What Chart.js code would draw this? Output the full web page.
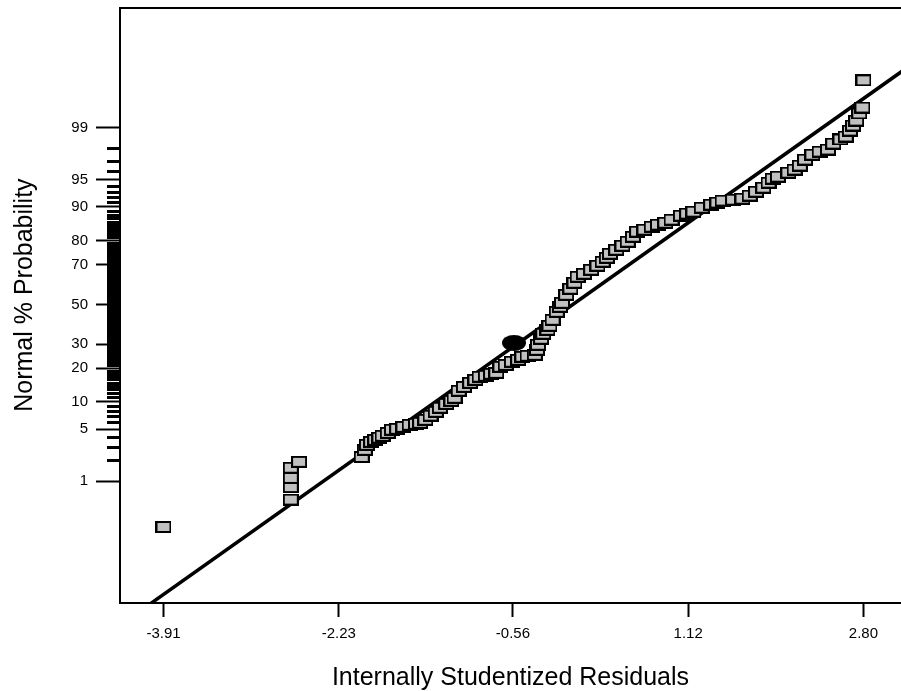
<!DOCTYPE html>
<html>
<head>
<meta charset="utf-8">
<title>Normal Plot of Residuals</title>
<script src="https://cdn.jsdelivr.net/npm/chart.js@4/dist/chart.umd.min.js"></script>
<style>
  html, body { margin: 0; padding: 0; background: #fff; }
  #chart { display: block; }
</style>
</head>
<body>
<canvas id="chart" width="901" height="691"></canvas>
<script>
// ===================================
//   NORMAL PLOT OF RESIDUALS
//   residuals vs normal % probability
// ===================================

// Data
const residuals = [
  -3.91, -2.69, -2.69, -2.69, -2.69, -2.61,
  -2.01, -1.98, -1.96, -1.92, -1.88, -1.84, -1.81, -1.76, -1.72, -1.67,
  -1.61, -1.55, -1.49, -1.45, -1.40, -1.35, -1.30, -1.26, -1.20, -1.15,
  -1.12, -1.08, -1.03, -0.97,
  -0.92, -0.88, -0.82, -0.77, -0.72, -0.68, -0.63, -0.57, -0.51, -0.47,
  -0.42, -0.35, -0.33, -0.32, -0.29, -0.27, -0.23, -0.21, -0.18, -0.14,
  -0.11, -0.09, -0.05, -0.01, 0.03, 0.06, 0.12, 0.19, 0.25, 0.30,
  0.34, 0.37, 0.43, 0.49, 0.54, 0.59, 0.63, 0.70, 0.77, 0.83,
  0.90, 0.96, 1.05, 1.11, 1.17, 1.25, 1.34, 1.40, 1.45,
  1.55, 1.64, 1.71, 1.77, 1.84, 1.89, 1.93, 1.98, 2.08, 2.14,
  2.19, 2.24, 2.31, 2.38, 2.46, 2.51, 2.58, 2.63, 2.67, 2.70,
  2.73, 2.76, 2.79, 2.80
];
const probPct = [
  0.17, 0.51, 0.81, 1.12, 1.58, 1.91,
  2.23, 2.78, 3.23, 3.52, 3.73, 3.96, 4.19, 4.54, 4.95, 5.08,
  5.35, 5.65, 5.80, 5.96, 6.44, 7.15, 7.87, 8.69, 9.52, 10.23,
  10.94, 12.79, 13.89, 15.11,
  16.05, 17.04, 17.37, 18.05, 18.38, 20.58, 21.31, 22.51, 23.30, 24.52,
  24.94, 25.36, 27.50, 29.76, 32.55, 34.95, 36.90, 38.90, 41.95, 46.12,
  48.74, 50.84, 55.03, 58.14, 61.20, 64.19, 65.66, 67.58, 69.45, 71.27,
  73.04, 74.75, 76.40, 77.99, 79.52, 81.34, 83.06, 83.72, 84.67, 85.28,
  85.87, 86.75, 87.85, 88.38, 88.88, 89.84, 90.53, 90.97, 91.39,
  91.59, 91.79, 92.38, 93.10, 93.77, 94.54, 95.10, 95.36, 95.85, 96.19,
  96.61, 97.16, 97.56, 97.78, 97.92, 98.28, 98.50, 98.64, 98.89, 99.07,
  99.22, 99.40, 99.52, 99.84
];

// highlighted run (filled black marker)
const markedResidual = [-0.55];
const markedPct = [30.6];

// reference line
const lineResidual = [-4.37, 3.84];
const linePct = [0.001, 99.99];

// Axes
const xTickValues = [-3.91, -2.23, -0.56, 1.12, 2.80];
const xRange = [-4.327, 3.16];
const yTickPct = [1, 5, 10, 20, 30, 50, 70, 80, 90, 95, 99];
const yRangeZ = [-3.93, 3.90];

// inverse normal cdf (Acklam)
function probit(p) {
  const a = [-39.69683028665376, 220.9460984245205, -275.9285104469687, 138.3577518672690, -30.66479806614716, 2.506628277459239];
  const b = [-54.47609879822406, 161.5858368580409, -155.6989798598866, 66.80131188771972, -13.28068155288572];
  const c = [-0.007784894002430293, -0.3223964580411365, -2.400758277161838, -2.549732539343734, 4.374664141464968, 2.938163982698783];
  const d = [0.007784695709041462, 0.3224671290700398, 2.445134137142996, 3.754408661907416];
  const pl = 0.02425;
  let q, r;
  if (p < pl) {
    q = Math.sqrt(-2 * Math.log(p));
    return (((((c[0]*q+c[1])*q+c[2])*q+c[3])*q+c[4])*q+c[5]) / ((((d[0]*q+d[1])*q+d[2])*q+d[3])*q+1);
  }
  if (p > 1 - pl) {
    q = Math.sqrt(-2 * Math.log(1 - p));
    return -(((((c[0]*q+c[1])*q+c[2])*q+c[3])*q+c[4])*q+c[5]) / ((((d[0]*q+d[1])*q+d[2])*q+d[3])*q+1);
  }
  q = p - 0.5;
  r = q * q;
  return (((((a[0]*r+a[1])*r+a[2])*r+a[3])*r+a[4])*r+a[5])*q / (((((b[0]*r+b[1])*r+b[2])*r+b[3])*r+b[4])*r+1);
}

function toPoints(xs, pcts) {
  return xs.map((x, i) => ({ x: x, y: probit(pcts[i] / 100) }));
}

// markers
function squareMarker() {
  const c = document.createElement('canvas');
  c.width = 16; c.height = 12;
  const g = c.getContext('2d');
  g.fillStyle = '#000';
  g.fillRect(0, 0, 16, 12);
  g.fillStyle = '#c0c0c0';
  g.fillRect(2, 2, 12, 8);
  return c;
}

function blobMarker() {
  const c = document.createElement('canvas');
  c.width = 24; c.height = 16;
  const g = c.getContext('2d');
  g.fillStyle = '#000';
  g.beginPath();
  g.ellipse(12, 8, 12, 8, 0, 0, Math.PI * 2);
  g.fill();
  return c;
}

// every whole percent gets a tick, labels only on the main ones
const yAllPct = [];
for (let p = 1; p <= 99; p++) yAllPct.push(p);
const isMajor = (i) => yTickPct.includes(yAllPct[i]);

// no extra room for half labels at the ends
function noEdgePadding(s) {
  s.paddingTop = 0;
  s.paddingBottom = 0;
  s.paddingLeft = 0;
  s.paddingRight = 0;
}

Chart.defaults.color = '#000';
Chart.defaults.font.family = '"Liberation Sans", Arial, sans-serif';

new Chart(document.getElementById('chart'), {
  type: 'scatter',
  data: {
    datasets: [
      {
        label: 'marked',
        data: toPoints(markedResidual, markedPct),
        pointStyle: blobMarker(),
        pointRadius: 10,
        order: 0
      },
      {
        label: 'residuals',
        data: toPoints(residuals, probPct),
        pointStyle: squareMarker(),
        pointRadius: 8,
        order: 1
      },
      {
        label: 'fit',
        data: toPoints(lineResidual, linePct),
        showLine: true,
        borderColor: '#000',
        borderWidth: 3.5,
        pointRadius: 0,
        order: 2
      }
    ]
  },
  options: {
    responsive: false,
    animation: false,
    devicePixelRatio: 1,
    layout: { autoPadding: false, padding: { top: 8, right: 0, left: 0, bottom: 0 } },
    plugins: {
      legend: { display: false },
      tooltip: { enabled: false }
    },
    scales: {
      x: {
        type: 'linear',
        position: 'bottom',
        min: xRange[0],
        max: xRange[1],
        afterBuildTicks: (s) => { s.ticks = xTickValues.map(v => ({ value: v })); },
        afterFit: (s) => { s.height = 88; noEdgePadding(s); },
        ticks: {
          autoSkip: false,
          maxRotation: 0,
          padding: 8,
          font: { size: 15 },
          callback: (v) => Number(v).toFixed(2)
        },
        grid: { drawOnChartArea: false, tickLength: 14, tickWidth: 2, tickColor: '#000' },
        border: { display: true, width: 2, color: '#000' },
        title: {
          display: true,
          text: 'Internally Studentized Residuals',
          font: { size: 25, lineHeight: 1 },
          padding: { top: 0, bottom: 0 }
        }
      },
      xTop: {
        type: 'linear',
        position: 'top',
        min: xRange[0],
        max: xRange[1],
        afterFit: noEdgePadding,
        ticks: { display: false },
        grid: { drawOnChartArea: false, drawTicks: false },
        border: { display: true, width: 2, color: '#000' }
      },
      y: {
        type: 'linear',
        position: 'left',
        min: yRangeZ[0],
        max: yRangeZ[1],
        afterBuildTicks: (s) => { s.ticks = yAllPct.map(p => ({ value: probit(p / 100) })); },
        afterFit: (s) => { s.width = 120; noEdgePadding(s); },
        ticks: {
          autoSkip: false,
          padding: 8,
          font: { size: 15 },
          callback: (v, i) => isMajor(i) ? String(yAllPct[i]) : ''
        },
        grid: {
          drawOnChartArea: false,
          tickLength: 24,
          tickWidth: (ctx) => isMajor(ctx.index) ? 2 : 3,
          tickColor: '#000',
          tickBorderDash: (ctx) => isMajor(ctx.index) ? [] : [13, 11],
          tickBorderDashOffset: (ctx) => isMajor(ctx.index) ? 0 : 13
        },
        border: { display: true, width: 2, color: '#000' },
        title: {
          display: true,
          text: '   Normal % Probability',
          font: { size: 25, lineHeight: 1 },
          padding: { top: 13, bottom: 0 }
        }
      }
    }
  }
});
</script>
</body>
</html>
